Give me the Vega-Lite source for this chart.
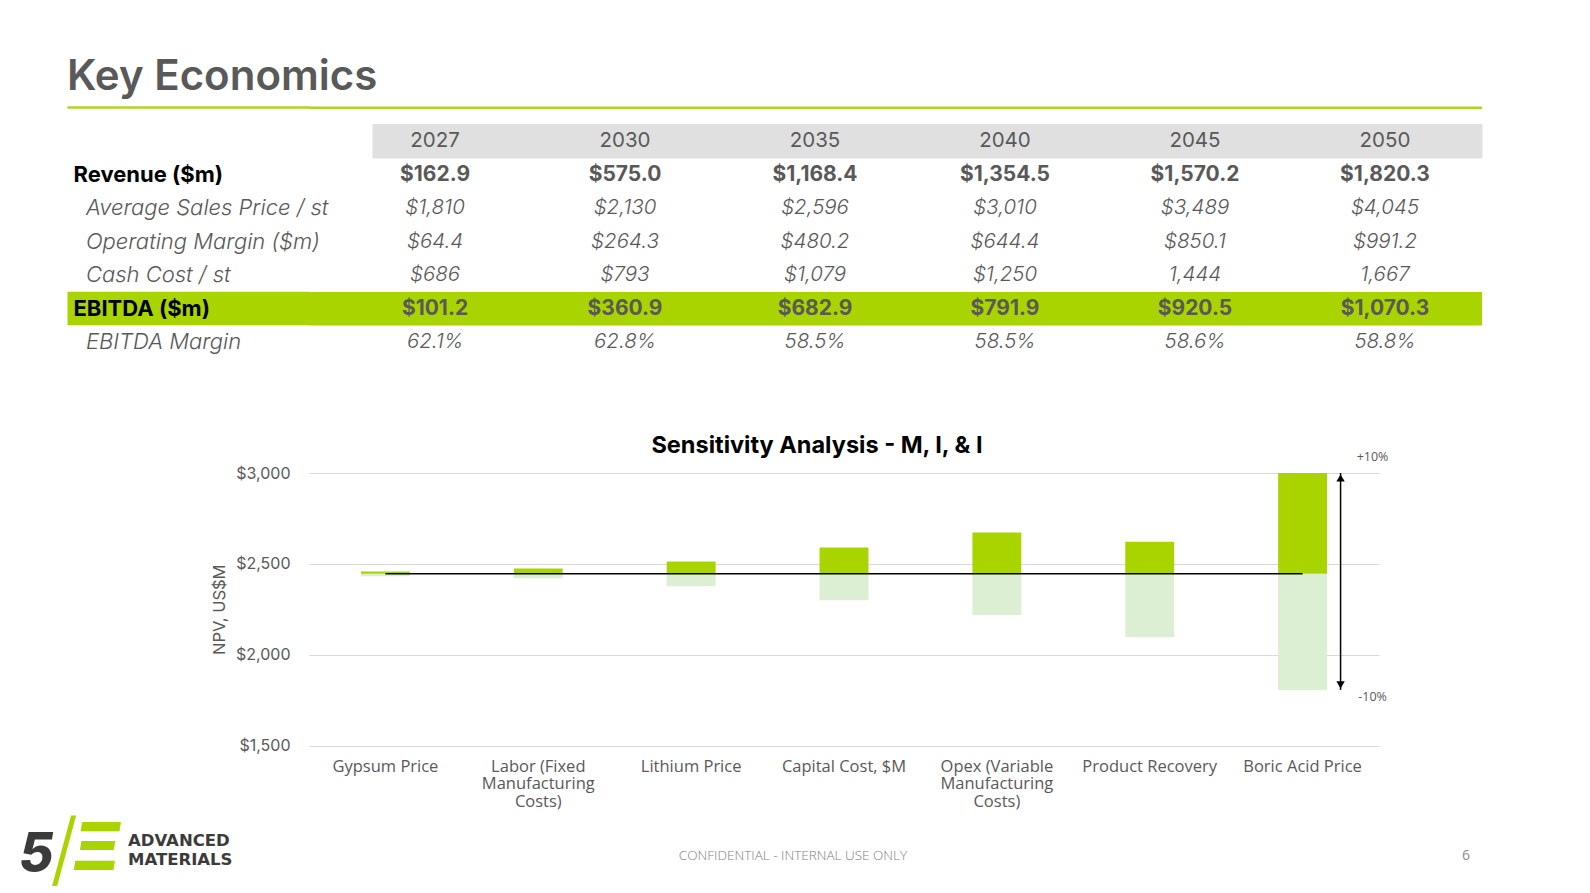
{
  "$schema": "https://vega.github.io/schema/vega-lite/v6.json",
  "background": "white",
  "padding": {"left": 18, "top": 56, "right": 0, "bottom": 0},
  "config": {"view": {"stroke": null}, "font": "Inter"},
  "datasets": {
    "table": [
      {"m": "header", "yr": "2027", "t": "2027"},
      {"m": "header", "yr": "2030", "t": "2030"},
      {"m": "header", "yr": "2035", "t": "2035"},
      {"m": "header", "yr": "2040", "t": "2040"},
      {"m": "header", "yr": "2045", "t": "2045"},
      {"m": "header", "yr": "2050", "t": "2050"},
      {"m": "Revenue ($m)", "yr": "2027", "t": "$162.9"},
      {"m": "Revenue ($m)", "yr": "2030", "t": "$575.0"},
      {"m": "Revenue ($m)", "yr": "2035", "t": "$1,168.4"},
      {"m": "Revenue ($m)", "yr": "2040", "t": "$1,354.5"},
      {"m": "Revenue ($m)", "yr": "2045", "t": "$1,570.2"},
      {"m": "Revenue ($m)", "yr": "2050", "t": "$1,820.3"},
      {"m": "Average Sales Price / st", "yr": "2027", "t": "$1,810"},
      {"m": "Average Sales Price / st", "yr": "2030", "t": "$2,130"},
      {"m": "Average Sales Price / st", "yr": "2035", "t": "$2,596"},
      {"m": "Average Sales Price / st", "yr": "2040", "t": "$3,010"},
      {"m": "Average Sales Price / st", "yr": "2045", "t": "$3,489"},
      {"m": "Average Sales Price / st", "yr": "2050", "t": "$4,045"},
      {"m": "Operating Margin ($m)", "yr": "2027", "t": "$64.4"},
      {"m": "Operating Margin ($m)", "yr": "2030", "t": "$264.3"},
      {"m": "Operating Margin ($m)", "yr": "2035", "t": "$480.2"},
      {"m": "Operating Margin ($m)", "yr": "2040", "t": "$644.4"},
      {"m": "Operating Margin ($m)", "yr": "2045", "t": "$850.1"},
      {"m": "Operating Margin ($m)", "yr": "2050", "t": "$991.2"},
      {"m": "Cash Cost / st", "yr": "2027", "t": "$686"},
      {"m": "Cash Cost / st", "yr": "2030", "t": "$793"},
      {"m": "Cash Cost / st", "yr": "2035", "t": "$1,079"},
      {"m": "Cash Cost / st", "yr": "2040", "t": "$1,250"},
      {"m": "Cash Cost / st", "yr": "2045", "t": "1,444"},
      {"m": "Cash Cost / st", "yr": "2050", "t": "1,667"},
      {"m": "EBITDA ($m)", "yr": "2027", "t": "$101.2"},
      {"m": "EBITDA ($m)", "yr": "2030", "t": "$360.9"},
      {"m": "EBITDA ($m)", "yr": "2035", "t": "$682.9"},
      {"m": "EBITDA ($m)", "yr": "2040", "t": "$791.9"},
      {"m": "EBITDA ($m)", "yr": "2045", "t": "$920.5"},
      {"m": "EBITDA ($m)", "yr": "2050", "t": "$1,070.3"},
      {"m": "EBITDA Margin", "yr": "2027", "t": "62.1%"},
      {"m": "EBITDA Margin", "yr": "2030", "t": "62.8%"},
      {"m": "EBITDA Margin", "yr": "2035", "t": "58.5%"},
      {"m": "EBITDA Margin", "yr": "2040", "t": "58.5%"},
      {"m": "EBITDA Margin", "yr": "2045", "t": "58.6%"},
      {"m": "EBITDA Margin", "yr": "2050", "t": "58.8%"}
    ],
    "sens": [
      {"factor": "Gypsum Price", "low": 2432, "base": 2446, "high": 2458},
      {"factor": "Labor (Fixed Manufacturing Costs)", "low": 2421, "base": 2446, "high": 2474},
      {"factor": "Lithium Price", "low": 2377, "base": 2446, "high": 2513},
      {"factor": "Capital Cost, $M", "low": 2300, "base": 2446, "high": 2590},
      {"factor": "Opex (Variable Manufacturing Costs)", "low": 2218, "base": 2446, "high": 2672},
      {"factor": "Product Recovery", "low": 2097, "base": 2446, "high": 2622},
      {"factor": "Boric Acid Price", "low": 1806, "base": 2446, "high": 3000}
    ],
    "footer": [
      {"slot": "logo", "part": "five", "t": "5"},
      {"slot": "logo", "part": "slash", "t": "/"},
      {"slot": "logo", "part": "e", "t": "Ξ"},
      {"slot": "logo", "part": "l1", "t": "ADVANCED"},
      {"slot": "logo", "part": "l2", "t": "MATERIALS"},
      {"slot": "conf", "part": "conf", "t": "CONFIDENTIAL - INTERNAL USE ONLY"},
      {"slot": "page", "part": "page", "t": "6"}
    ]
  },
  "spacing": 0,
  "vconcat": [
    {
      "width": 1173,
      "height": 341.35,
      "title": {"text": "Key Economics", "anchor": "start", "frame": "group", "dx": -242, "font": "Inter", "fontSize": 42, "fontWeight": 600, "color": "#595959", "baseline": "top", "offset": -8},
      "data": {"name": "table"},
      "encoding": {
        "y": {
          "field": "m", "type": "nominal",
          "scale": {"domain": ["rule", "header", "Revenue ($m)", "Average Sales Price / st", "Operating Margin ($m)", "Cash Cost / st", "EBITDA ($m)", "EBITDA Margin", "blank"], "paddingInner": 0, "paddingOuter": 0.5948, "align": 0},
          "axis": {
            "title": null, "orient": "left", "domain": false, "grid": false,
            "ticks": true, "tickSize": 242, "tickBand": "center",
            "tickWidth": {"condition": {"test": "datum.value == 'rule'", "value": 2.5}, "value": 33.5},
            "tickColor": {"condition": {"test": "datum.value == 'rule'", "value": "#b0d422"}, "value": "#aad400"},
            "tickOpacity": {"condition": {"test": "datum.value == 'rule' || datum.value == 'EBITDA ($m)'", "value": 1}, "value": 0},
            "labelAlign": "left", "labelBaseline": "middle", "labelPadding": -6, "labelLimit": 0, "labelOverlap": false,
            "labelFont": "Inter", "labelFontSize": 22, "zindex": 1, "minExtent": 0, "maxExtent": 291,
            "labelExpr": "datum.value == 'rule' || datum.value == 'header' || datum.value == 'blank' ? '' : (datum.value == 'Revenue ($m)' || datum.value == 'EBITDA ($m)' ? datum.value : '\u200b\u00a0\u00a0' + datum.value)",
            "labelFontWeight": {"condition": {"test": "datum.value == 'Revenue ($m)' || datum.value == 'EBITDA ($m)'", "value": 700}, "value": 300},
            "labelFontStyle": {"condition": {"test": "datum.value == 'Revenue ($m)' || datum.value == 'EBITDA ($m)'", "value": "normal"}, "value": "italic"},
            "labelColor": {"condition": {"test": "datum.value == 'Revenue ($m)' || datum.value == 'EBITDA ($m)'", "value": "#000000"}, "value": "#595959"}
          }
        }
      },
      "resolve": {"scale": {"x": "independent"}},
      "layer": [
        {
          "transform": [{"filter": "datum.m == 'header'"}],
          "mark": {"type": "rect", "color": "#e0e0e0", "stroke": "#e0e0e0", "strokeWidth": 1},
          "encoding": {"x": {"field": "yr", "type": "ordinal", "scale": {"type": "band", "domain": ["2027", "2030", "2035", "2040", "2045", "2050"], "paddingInner": 0, "paddingOuter": 0.173, "align": 1}, "axis": null}}
        },
        {"transform": [{"filter": "datum.m == 'EBITDA ($m)' && datum.yr == '2027'"}], "mark": {"type": "rect", "color": "#aad400"}},
        {"transform": [{"filter": "datum.m == 'Revenue ($m)' && datum.yr == '2027'"}], "mark": {"type": "rule", "color": "#b0d422", "strokeWidth": 2.5}, "encoding": {"y": {"datum": "rule", "type": "nominal"}}},
        {
          "transform": [{"filter": "datum.m == 'header'"}],
          "mark": {"type": "text", "font": "Inter", "fontSize": 20.5, "fontWeight": 400, "color": "#595959"},
          "encoding": {
            "x": {"field": "yr", "type": "ordinal", "scale": {"type": "point", "domain": ["2027", "2030", "2035", "2040", "2045", "2050"], "padding": 0.587, "align": 0.565}, "axis": null},
            "text": {"field": "t"}
          }
        },
        {
          "transform": [{"filter": "datum.m == 'Revenue ($m)' || datum.m == 'EBITDA ($m)'"}],
          "mark": {"type": "text", "font": "Inter", "fontSize": 21, "fontWeight": 700, "color": "#595959"},
          "encoding": {
            "x": {"field": "yr", "type": "ordinal", "scale": {"type": "point", "domain": ["2027", "2030", "2035", "2040", "2045", "2050"], "padding": 0.587, "align": 0.565}, "axis": null},
            "text": {"field": "t"}
          }
        },
        {
          "transform": [{"filter": "datum.m != 'header' && datum.m != 'Revenue ($m)' && datum.m != 'EBITDA ($m)'"}],
          "mark": {"type": "text", "font": "Inter", "fontSize": 20.5, "fontWeight": 300, "fontStyle": "italic", "color": "#595959"},
          "encoding": {
            "x": {"field": "yr", "type": "ordinal", "scale": {"type": "point", "domain": ["2027", "2030", "2035", "2040", "2045", "2050"], "padding": 0.587, "align": 0.565}, "axis": null},
            "text": {"field": "t"}
          }
        }
      ]
    },
    {
      "width": 1070,
      "height": 272.5,
      "title": {"text": "Sensitivity Analysis - M, I, & I", "font": "Inter", "fontSize": 23.5, "fontWeight": 700, "color": "#000000", "anchor": "middle", "frame": "group", "dx": -27, "baseline": "top", "offset": -6.5},
      "data": {"name": "sens"},
      "encoding": {
        "x": {
          "field": "factor", "type": "nominal", "sort": null,
          "scale": {"paddingInner": 0.68, "paddingOuter": 0.34},
          "axis": {
            "title": null, "domain": false, "ticks": false, "labelAngle": 0,
            "labelFont": "Open Sans", "labelFontSize": 16.5, "labelColor": "#595959",
            "labelPadding": 12.5, "labelLineHeight": 17.75, "labelBaseline": "top", "labelLimit": 220,
            "minExtent": 65, "maxExtent": 65,
            "labelExpr": "datum.value == 'Labor (Fixed Manufacturing Costs)' ? ['Labor (Fixed', 'Manufacturing', 'Costs)'] : datum.value == 'Opex (Variable Manufacturing Costs)' ? ['Opex (Variable', 'Manufacturing', 'Costs)'] : datum.value"
          }
        }
      },
      "layer": [
        {
          "mark": {"type": "bar", "color": "#dcefd3"},
          "encoding": {
            "y": {
              "field": "low", "type": "quantitative", "title": "NPV, US$M",
              "scale": {"domain": [1500, 3000], "zero": false, "nice": false},
              "axis": {
                "values": [1500, 2000, 2500, 3000], "format": "$,.0f", "grid": true, "gridColor": "#d9d9d9",
                "domain": false, "ticks": false, "labelFont": "Inter", "labelFontSize": 16, "labelColor": "#595959",
                "labelPadding": 19, "minExtent": 291, "maxExtent": 291,
                "titleFont": "Inter", "titleFontSize": 16.5, "titleFontWeight": 400, "titleColor": "#595959", "titleX": -82
              }
            },
            "y2": {"field": "base"}
          }
        },
        {
          "mark": {"type": "bar", "color": "#aad400"},
          "encoding": {"y": {"field": "base", "type": "quantitative", "title": "NPV, US$M"}, "y2": {"field": "high"}}
        },
        {
          "mark": {"type": "line", "color": "#000000", "strokeWidth": 1.5},
          "encoding": {"y": {"field": "base", "type": "quantitative", "title": "NPV, US$M"}}
        },
        {
          "transform": [{"filter": "datum.factor == 'Boric Acid Price'"}],
          "mark": {"type": "rule", "xOffset": 38, "color": "#000000", "strokeWidth": 1.5},
          "encoding": {"y": {"field": "high", "type": "quantitative", "title": "NPV, US$M"}, "y2": {"field": "low"}}
        },
        {
          "transform": [{"filter": "datum.factor == 'Boric Acid Price'"}],
          "mark": {"type": "point", "shape": "triangle-up", "filled": true, "opacity": 1, "color": "#000000", "size": 70, "xOffset": 38, "yOffset": 5},
          "encoding": {"y": {"field": "high", "type": "quantitative", "title": "NPV, US$M"}}
        },
        {
          "transform": [{"filter": "datum.factor == 'Boric Acid Price'"}],
          "mark": {"type": "point", "shape": "triangle-down", "filled": true, "opacity": 1, "color": "#000000", "size": 70, "xOffset": 38, "yOffset": -5},
          "encoding": {"y": {"field": "low", "type": "quantitative", "title": "NPV, US$M"}}
        },
        {
          "transform": [{"filter": "datum.factor == 'Boric Acid Price'"}],
          "mark": {"type": "text", "text": "+10%", "dx": 70, "dy": -16.5, "font": "Open Sans", "fontSize": 12.5, "color": "#595959"},
          "encoding": {"y": {"field": "high", "type": "quantitative", "title": "NPV, US$M"}}
        },
        {
          "transform": [{"filter": "datum.factor == 'Boric Acid Price'"}],
          "mark": {"type": "text", "text": "-10%", "dx": 70, "dy": 7, "font": "Open Sans", "fontSize": 12.5, "color": "#595959"},
          "encoding": {"y": {"field": "low", "type": "quantitative", "title": "NPV, US$M"}}
        }
      ]
    },
    {
      "width": 1157,
      "height": 78,
      "layer": [
        {"data": {"values": [{}]}, "mark": {"type": "rect", "opacity": 0}, "encoding": {}},
        {
          "data": {"name": "footer"},
          "encoding": {
            "x": {"field": "slot", "type": "nominal", "scale": {"type": "point", "domain": ["logo", "conf", "page"], "padding": 0}, "axis": null},
            "text": {"field": "t"}
          },
          "layer": [
            {"transform": [{"filter": "datum.part == 'five'"}], "mark": {"type": "text", "align": "left", "dx": -290, "dy": 3.5, "font": "Inter", "fontSize": 53, "fontWeight": 800, "fontStyle": "italic", "color": "#3b3b3b"}},
            {"transform": [{"filter": "datum.part == 'slash'"}], "mark": {"type": "text", "align": "center", "dx": -245, "dy": 1.5, "font": "Inter", "fontSize": 81, "fontWeight": 300, "color": "#aad400"}},
            {"transform": [{"filter": "datum.part == 'e'"}], "mark": {"type": "text", "align": "center", "dx": -212.5, "dy": -1.3, "font": "Inter", "fontSize": 66, "fontWeight": 800, "fontStyle": "italic", "color": "#aad400"}},
            {"transform": [{"filter": "datum.part == 'l1'"}], "mark": {"type": "text", "align": "left", "dx": -181, "dy": -10, "font": "DejaVu Sans", "fontSize": 16.5, "fontWeight": 700, "color": "#3b3b3b"}},
            {"transform": [{"filter": "datum.part == 'l2'"}], "mark": {"type": "text", "align": "left", "dx": -181, "dy": 9, "font": "DejaVu Sans", "fontSize": 16.5, "fontWeight": 700, "color": "#3b3b3b"}},
            {"transform": [{"filter": "datum.part == 'conf'"}], "mark": {"type": "text", "align": "center", "dx": -94.5, "dy": 5, "font": "Open Sans", "fontSize": 13.5, "fontWeight": 300, "color": "#808080"}},
            {"transform": [{"filter": "datum.part == 'page'"}], "mark": {"type": "text", "align": "center", "dy": 5, "font": "Open Sans", "fontSize": 14, "color": "#8c8c8c"}}
          ]
        }
      ]
    }
  ]
}
